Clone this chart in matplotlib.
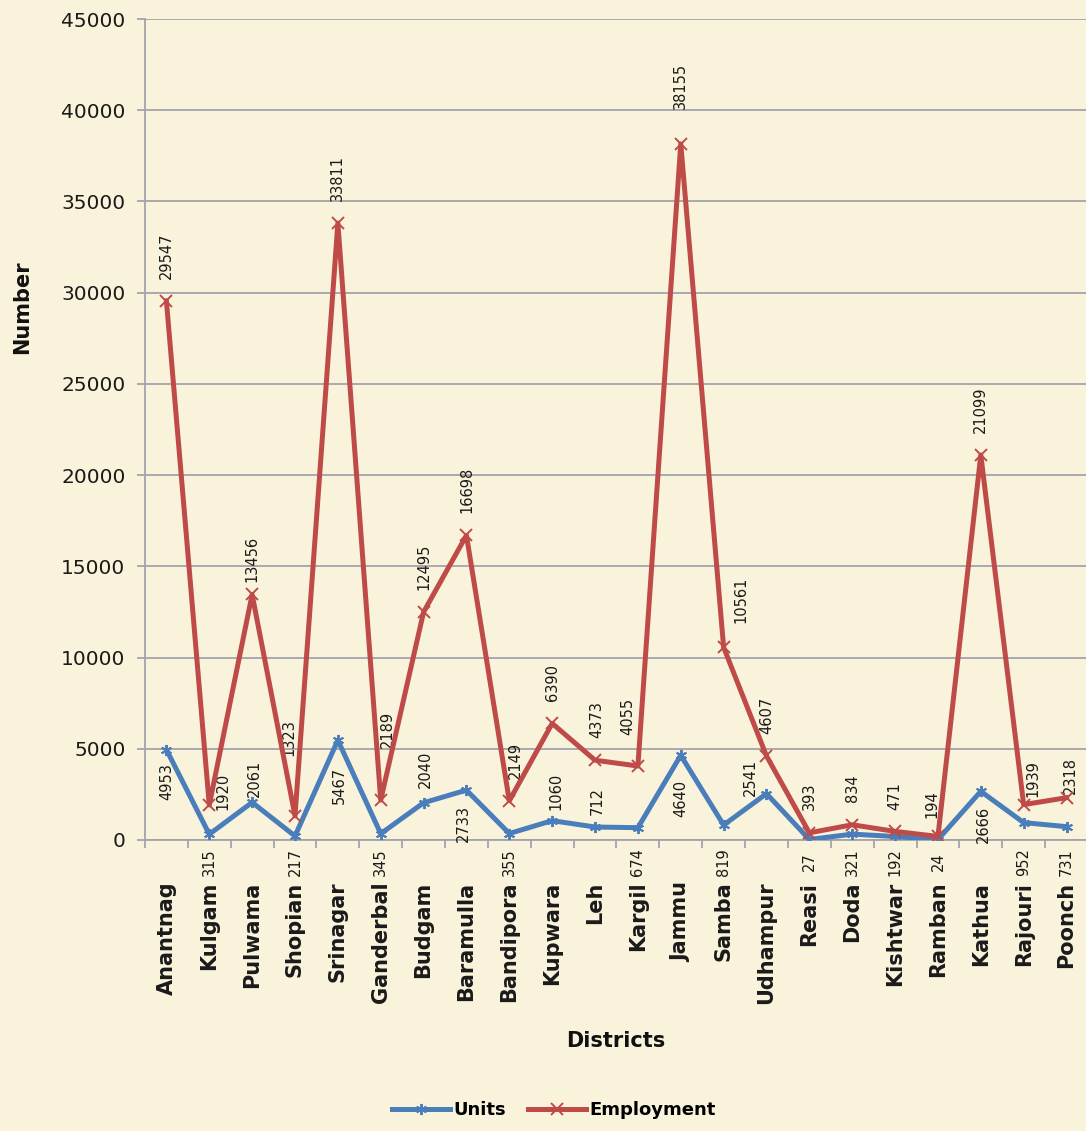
import matplotlib
matplotlib.use("Agg")
import matplotlib.pyplot as plt
from matplotlib.ticker import FixedLocator, NullFormatter

districts = ["Anantnag", "Kulgam", "Pulwama", "Shopian", "Srinagar", "Ganderbal",
             "Budgam", "Baramulla", "Bandipora", "Kupwara", "Leh", "Kargil",
             "Jammu", "Samba", "Udhampur", "Reasi", "Doda", "Kishtwar", "Ramban",
             "Kathua", "Rajouri", "Poonch"]
units = [4953, 315, 2061, 217, 5467, 345, 2040, 2733, 355, 1060, 712, 674,
         4640, 819, 2541, 27, 321, 192, 24, 2666, 952, 731]
employment = [29547, 1920, 13456, 1323, 33811, 2189, 12495, 16698, 2149, 6390,
              4373, 4055, 38155, 10561, 4607, 393, 834, 471, 194, 21099, 1939, 2318]
yticks = list(range(0, 45001, 5000))

# label placement (pixel offsets from the point; "base" = centred below the axis)
units_place = [("b", 0, -13), ("base", 0, 0), ("a", 2, 5), ("base", 0, 0),
               ("b", 1, -27), ("base", 0, 0), ("a", 2, 15), ("b", -3, -15),
               ("base", 0, 0), ("a", 4, 11), ("a", 2, 12), ("base", 0, 0),
               ("b", 0, -25), ("base", 0, 0), ("a", -16, -2), ("base", 0, 0),
               ("base", 0, 0), ("base", 0, 0), ("base", 0, 0), ("b", 3, -15),
               ("base", 0, 0), ("base", 0, 0)]
emp_place = [("a", 0, 22), ("a", 14, -5), ("a", 0, 12), ("a", -6, 60),
             ("a", 0, 22), ("a", 7, 52), ("a", 0, 22), ("a", 0, 22),
             ("a", 6, 22), ("a", 0, 22), ("a", 2, 22), ("a", -10, 31),
             ("a", 0, 35), ("a", 17, 24), ("a", 0, 22), ("a", 0, 23),
             ("a", 0, 23), ("a", 0, 21), ("a", -6, 18), ("a", 0, 22),
             ("a", 9, 8), ("a", 4, 4)]

BG = "#FAF3DC"
BLUE = "#4A7EBB"
RED = "#BE4B48"
GRID = "#A3A3AB"
TXT = "#1A1A1A"
PX = 72 / 100.0  # points per pixel

fig = plt.figure(figsize=(10.86, 11.31), dpi=100, facecolor=BG)
ax = fig.add_axes([0.1335, 0.2573, 0.8683, 0.7259], facecolor=BG)

x = list(range(len(districts)))
ax.plot(x, units, color=BLUE, lw=3.6, marker=(6, 2, 0), ms=8, mew=1.4,
        label="Units", zorder=3)
ax.plot(x, employment, color=RED, lw=3.6, marker="x", ms=8, mew=1.4,
        label="Employment", zorder=4)

ax.set_xlim(-0.5, len(districts) - 0.5)
ax.set_ylim(0, 45000)
ax.set_yticks(yticks)
ax.set_yticklabels([str(v) for v in yticks], fontsize=14.5, color=TXT)
ax.yaxis.grid(True, color=GRID, lw=1.3)
ax.set_axisbelow(True)

ax.set_xticks(x)
ax.set_xticklabels(districts, rotation=90, fontsize=15, fontweight="bold",
                   color=TXT, va="top")
ax.xaxis.set_minor_locator(FixedLocator([i - 0.5 for i in range(len(districts) + 1)]))
ax.xaxis.set_minor_formatter(NullFormatter())
ax.tick_params(axis="x", which="major", length=0, pad=30)
ax.tick_params(axis="x", which="minor", length=6, width=1.3, color=GRID)
ax.tick_params(axis="y", length=6, width=1.3, color=GRID, pad=8)

for s in ["top", "right"]:
    ax.spines[s].set_visible(False)
for s in ["left", "bottom"]:
    ax.spines[s].set_color(GRID)
    ax.spines[s].set_linewidth(1.3)

def label(xi, yi, txt, place):
    code, dx, dy = place
    kw = dict(rotation=90, fontsize=10.5, color=TXT, textcoords="offset points",
              ha="center")
    if code == "a":
        ax.annotate(txt, (xi, yi), xytext=(dx * PX, dy * PX), va="bottom", **kw)
    elif code == "b":
        ax.annotate(txt, (xi, yi), xytext=(dx * PX, dy * PX), va="top", **kw)
    else:
        ax.annotate(txt, (xi, 0), xytext=(dx * PX, -22 * PX), va="center", **kw)

for i in x:
    label(i, units[i], str(units[i]), units_place[i])
    label(i, employment[i], str(employment[i]), emp_place[i])

ax.set_ylabel("Number", fontsize=15, fontweight="bold", color="#111111")
ax.yaxis.set_label_coords(-0.120, 0.649)
fig.text(0.567, 0.080, "Districts", fontsize=15, fontweight="bold",
         ha="center", va="center", color="#111111")

fig.legend(loc="center", bbox_to_anchor=(0.51, 0.0185), ncol=2, frameon=False,
           prop=dict(size=13, weight="bold"), handlelength=3.2, columnspacing=1.2,
           handletextpad=0.2)

fig.savefig("out.png", dpi=100, facecolor=BG)
